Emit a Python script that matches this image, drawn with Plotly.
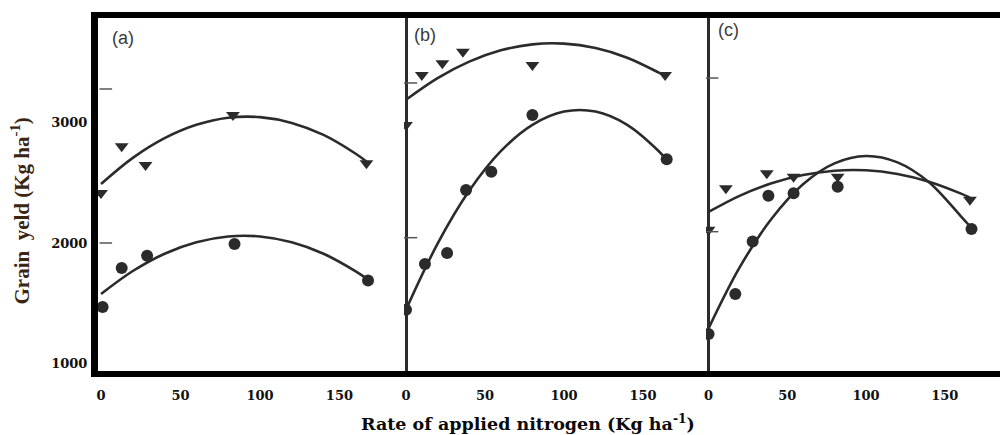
import plotly.graph_objects as go

# ---------------- data ----------------
# Panel (a)
a_tri_x = [0, 13, 28, 83, 167]
a_tri_y = [2415, 2805, 2648, 3064, 2662]
a_cir_x = [1, 13, 29, 84, 168]
a_cir_y = [1468, 1792, 1894, 1992, 1689]
a_fit_x = [0, 20, 40, 60, 80, 100, 120, 140, 160, 167]
a_fit_tri_y = [2490, 2707, 2871, 2982, 3041, 3046, 2998, 2898, 2744, 2678]
a_fit_cir_y = [1576, 1767, 1911, 2006, 2054, 2054, 2006, 1911, 1767, 1706]

# Panel (b)
b_tri_x = [0, 10, 23, 36, 80, 164]
b_tri_y = [2980, 3396, 3494, 3590, 3480, 3396]
b_cir_x = [0, 12, 26, 38, 54, 80, 165]
b_cir_y = [1446, 1825, 1917, 2441, 2593, 3064, 2696]
b_fit_x = [0, 20, 40, 60, 80, 100, 120, 140, 160, 164]
b_fit_tri_y = [3190, 3370, 3507, 3601, 3651, 3657, 3620, 3540, 3416, 3388]
b_fit_cir_y = [1446, 1995, 2434, 2763, 2982, 3092, 3092, 2982, 2763, 2705]

# Panel (c)
c_tri_x = [0, 11, 37, 54, 82, 166]
c_tri_y = [2110, 2455, 2579, 2551, 2550, 2360]
c_cir_x = [0, 17, 28, 38, 54, 82, 167]
c_cir_y = [1244, 1576, 2013, 2393, 2413, 2468, 2116]
c_fit_x = [0, 20, 40, 60, 80, 100, 120, 140, 160, 166]
c_fit_tri_y = [2258, 2394, 2496, 2565, 2601, 2604, 2573, 2509, 2412, 2377]
c_fit_cir_y = [1290, 1803, 2202, 2489, 2662, 2723, 2670, 2505, 2226, 2139]

# leftover tick marks of the scanned original axes
a_orig_ticks = [3280, 2000]
b_orig_ticks = [3330, 2044]
c_orig_ticks = [3371, 2094]

x_tickvals = [0, 50, 100, 150]
x_ticktext = ["0", "50", "100", "150"]
y_tickvals = [1000, 2000, 3000]
y_ticktext = ["1000", "2000", "3000"]
panel_labels = ["(a)", "(b)", "(c)"]

# ---------------- figure ----------------
INK = "#2b2b2b"
fig = go.Figure()

panels = [
    ("x", a_tri_x, a_tri_y, a_cir_x, a_cir_y, a_fit_x, a_fit_tri_y, a_fit_cir_y, a_orig_ticks, 3, 9),
    ("x2", b_tri_x, b_tri_y, b_cir_x, b_cir_y, b_fit_x, b_fit_tri_y, b_fit_cir_y, b_orig_ticks, 0, 16),
    ("x3", c_tri_x, c_tri_y, c_cir_x, c_cir_y, c_fit_x, c_fit_tri_y, c_fit_cir_y, c_orig_ticks, 0, 14),
]
for xa, tx, ty, cx, cy, fx, fty, fcy, oticks, otx, osz in panels:
    fig.add_trace(go.Scatter(x=fx, y=fty, mode="lines", line=dict(color=INK, width=2.6, shape="spline"),
                             xaxis=xa, yaxis="y", hoverinfo="skip"))
    fig.add_trace(go.Scatter(x=fx, y=fcy, mode="lines", line=dict(color=INK, width=2.6, shape="spline"),
                             xaxis=xa, yaxis="y", hoverinfo="skip"))
    fig.add_trace(go.Scatter(x=tx, y=ty, mode="markers",
                             marker=dict(symbol="triangle-down", size=12, color=INK),
                             xaxis=xa, yaxis="y"))
    fig.add_trace(go.Scatter(x=cx, y=cy, mode="markers",
                             marker=dict(symbol="circle", size=12, color=INK),
                             xaxis=xa, yaxis="y"))
    fig.add_trace(go.Scatter(x=[otx] * len(oticks), y=oticks, mode="markers",
                             marker=dict(symbol="line-ew", size=osz, line=dict(color="#555", width=1.5)),
                             xaxis=xa, yaxis="y", hoverinfo="skip"))

tickfont = dict(family="DejaVu Serif, serif", size=13, color="#111", weight="bold")
xcommon = dict(tickvals=x_tickvals, ticktext=x_ticktext, tickfont=tickfont, showgrid=False,
               showline=True, linecolor="black", linewidth=6, ticks="outside", ticklen=7,
               tickcolor="rgba(0,0,0,0)", mirror=True, anchor="y", fixedrange=True)

fig.update_layout(
    width=1000, height=435,
    margin=dict(l=98, r=0, t=18, b=64),
    paper_bgcolor="white", plot_bgcolor="white",
    showlegend=False,
    xaxis=dict(domain=[0, 0.3392], range=[-1.9, 190.6], zeroline=False, **xcommon),
    xaxis2=dict(domain=[0.3392, 0.6741], range=[-1.3, 189.9], zeroline=True,
                zerolinecolor=INK, zerolinewidth=2.5, **xcommon),
    xaxis3=dict(domain=[0.6741, 1.0], range=[-1.6, 185.1], zeroline=True,
                zerolinecolor=INK, zerolinewidth=2.5, **xcommon),
    yaxis=dict(range=[936, 3870], tickvals=y_tickvals, ticktext=y_ticktext, tickfont=tickfont,
               showgrid=False, zeroline=False, showline=True, linecolor="black", linewidth=7,
               ticks="outside", ticklen=1, tickcolor="rgba(0,0,0,0)", anchor="x", fixedrange=True),
)

label_pos = [("x domain", 0.082), ("x2 domain", 0.07), ("x3 domain", 0.078)]
for (ref, px), lab, py in zip(label_pos, panel_labels, [0.943, 0.951, 0.965]):
    fig.add_annotation(text=lab, xref=ref, yref="paper", x=px, y=py, xanchor="center", yanchor="middle",
                       showarrow=False,
                       font=dict(family="Liberation Sans, Arial, sans-serif", size=18, color="#3a3a3a"))

fig.add_annotation(text="Rate of applied nitrogen (Kg ha<sup>-1</sup>)", xref="paper", yref="paper",
                   x=0.477, xanchor="center", y=-0.147, yanchor="middle", showarrow=False,
                   font=dict(family="DejaVu Serif, serif", size=17.5,
                             color="#0a0a0a", weight="bold"))
fig.add_annotation(text="Grain  yeld (Kg ha<sup>-1</sup>)", xref="paper", yref="paper",
                   x=-0.086, xanchor="center", y=0.453, yanchor="middle", textangle=-90, showarrow=False,
                   font=dict(family="Liberation Serif, Times New Roman, serif", size=21,
                             color="#3a2412", weight="bold"))

fig.write_html("out.html")
